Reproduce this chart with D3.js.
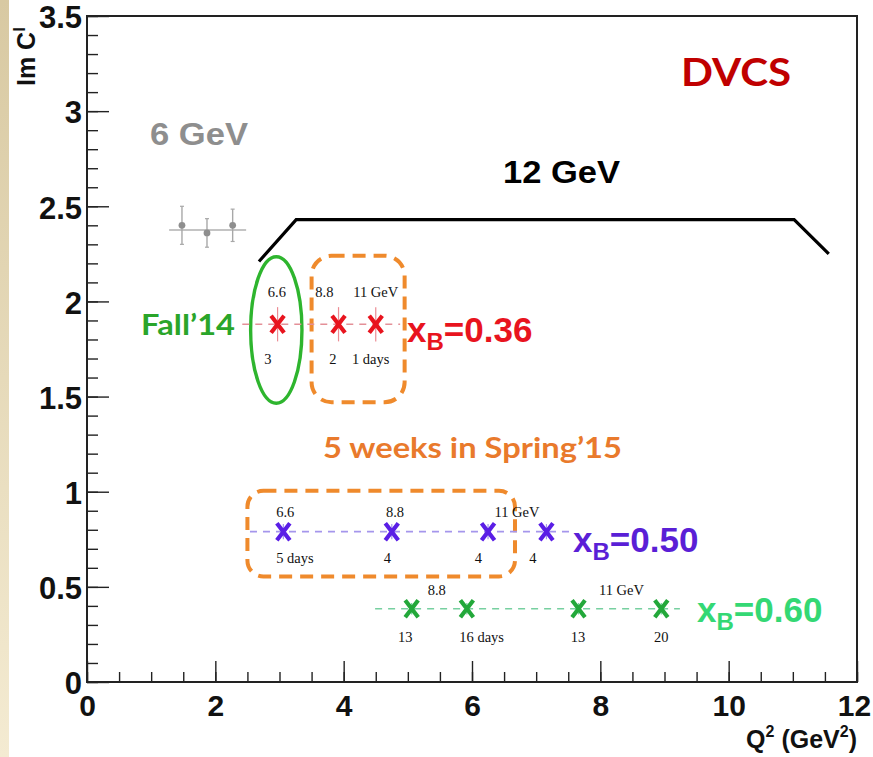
<!DOCTYPE html>
<html>
<head>
<meta charset="utf-8">
<script src="https://cdn.jsdelivr.net/npm/d3@7"></script>
<style>
  html, body { margin: 0; padding: 0; background: #ffffff; }
  svg { display: block; }
</style>
</head>
<body>
<svg id="chart" width="873" height="757"></svg>
<script>
// ---- data ----
// 6 GeV published points
const q2_6GeV   = [1.48, 1.87, 2.27];
const imc_6GeV  = [2.40, 2.36, 2.40];
const err_6GeV  = [0.10, 0.075, 0.085];
const band_6GeV = { from: 1.28, to: 2.48, value: 2.375 };

// 12 GeV kinematic reach
const q2_12GeV  = [2.68, 3.26, 11.02, 11.56];
const imc_12GeV = [2.21, 2.43, 2.43, 2.25];

// projected points, xB = 0.36
const q2_036  = [2.97, 3.92, 4.50];
const imc_036 = [1.88, 1.88, 1.88];
const err_036 = [0.09, 0.09, 0.09];
const line_036 = [2.42, 4.88];
const beam_036 = [{ q: 2.96, t: "6.6" }, { q: 3.70, t: "8.8" }, { q: 4.50, t: "11 GeV" }];
const days_036 = [{ q: 2.82, t: "3" }, { q: 3.83, t: "2" }, { q: 4.42, t: "1 days" }];

// projected points, xB = 0.50
const q2_050  = [3.06, 4.75, 6.25, 7.16];
const imc_050 = [0.79, 0.79, 0.79, 0.79];
const err_050 = [0.04, 0.04, 0.04, 0.04];
const line_050 = [2.54, 7.55];
const beam_050 = [{ q: 3.09, t: "6.6" }, { q: 4.80, t: "8.8" }, { q: 6.70, t: "11 GeV" }];
const days_050 = [{ q: 3.24, t: "5 days" }, { q: 4.68, t: "4" }, { q: 6.10, t: "4" }, { q: 6.95, t: "4" }];

// projected points, xB = 0.60
const q2_060  = [5.06, 5.92, 7.66, 8.95];
const imc_060 = [0.385, 0.385, 0.385, 0.385];
const err_060 = [0.03, 0.03, 0.03, 0.03];
const line_060 = [4.49, 9.24];
const beam_060 = [{ q: 5.45, t: "8.8" }, { q: 8.33, t: "11 GeV" }];
const days_060 = [{ q: 4.96, t: "13" }, { q: 6.15, t: "16 days" }, { q: 7.65, t: "13" }, { q: 8.95, t: "20" }];

// run-period outlines (data coordinates)
const fallEllipse = { q: 2.95, v: 1.85, rq: 0.40, rv: 0.385 };
const springBox1  = { q0: 3.50, q1: 4.95, v0: 1.47, v1: 2.24 };
const springBox2  = { q0: 2.50, q1: 6.67, v0: 0.555, v1: 1.005 };

const xTicksMajor = [0, 2, 4, 6, 8, 10, 12];
const yTicksMajor = [0, 0.5, 1, 1.5, 2, 2.5, 3, 3.5];
const yTickLabels = ["0", "0.5", "1", "1.5", "2", "2.5", "3", "3.5"];

// ---- layout ----
const svg = d3.select("#chart");
const W = 873, H = 757;
const pL = 87, pR = 857, pT = 16, pB = 682;

const x = d3.scaleLinear().domain([0, 12]).range([pL, pR]);
const y = d3.scaleLinear().domain([0, 3.5]).range([pB, pT]);

// beige page edge
const grad = svg.append("defs").append("linearGradient")
  .attr("id", "edge").attr("x1", 0).attr("y1", 0).attr("x2", 0).attr("y2", 1);
grad.append("stop").attr("offset", "0%").attr("stop-color", "#d8c9a2");
grad.append("stop").attr("offset", "100%").attr("stop-color", "#f4ebd2");
svg.append("rect").attr("x", 0).attr("y", 0).attr("width", W).attr("height", H).attr("fill", "#ffffff");
svg.append("rect").attr("x", 0).attr("y", 0).attr("width", 9).attr("height", H).attr("fill", "url(#edge)");

const axisFont = "'Liberation Sans', Arial, sans-serif";
const calFont = "Lato, 'Open Sans', sans-serif";
const serif = "'Liberation Serif', 'Times New Roman', serif";

// ---- axes (ticks point into the frame) ----
const xMinor = d3.range(0, 12.001, 0.5);
const yMinor = d3.range(0, 3.5001, 0.1);

const gxMinor = svg.append("g").attr("transform", `translate(0,${pB})`)
  .call(d3.axisBottom(x).tickValues(xMinor).tickSize(-10).tickFormat(""));
const gxMajor = svg.append("g").attr("transform", `translate(0,${pB})`)
  .call(d3.axisBottom(x).tickValues(xTicksMajor).tickSize(-21).tickFormat(d3.format("d")));
const gyMinor = svg.append("g").attr("transform", `translate(${pL},0)`)
  .call(d3.axisLeft(y).tickValues(yMinor).tickSize(-11).tickFormat(""));
const gyMajor = svg.append("g").attr("transform", `translate(${pL},0)`)
  .call(d3.axisLeft(y).tickValues(yTicksMajor).tickSize(-22)
    .tickFormat((d, i) => yTickLabels[i]));

[gxMinor, gxMajor, gyMinor, gyMajor].forEach(g => {
  g.select(".domain").remove();
  g.selectAll(".tick line").attr("stroke", "#222").attr("stroke-width", 1.4);
});
gxMajor.selectAll(".tick text")
  .attr("font-family", axisFont).attr("font-weight", "bold").attr("font-size", 30)
  .attr("fill", "#111").attr("dy", "0").attr("y", 34)
  .attr("x", d => d === 12 ? -3 : 0);
gyMajor.selectAll(".tick text")
  .attr("font-family", axisFont).attr("font-weight", "bold").attr("font-size", 31)
  .attr("fill", "#111").attr("x", -5).attr("dy", "0.38em");

// frame
svg.append("rect").attr("x", pL).attr("y", pT)
  .attr("width", pR - pL).attr("height", pB - pT)
  .attr("fill", "none").attr("stroke", "#222").attr("stroke-width", 2);

// axis titles
const xt = svg.append("text").attr("x", pR).attr("y", 748)
  .attr("text-anchor", "end").attr("font-family", axisFont).attr("font-weight", "bold")
  .attr("font-size", 25).attr("fill", "#111");
xt.append("tspan").text("Q");
xt.append("tspan").attr("font-size", 16).attr("dy", -11).text("2");
xt.append("tspan").attr("dy", 11).text(" (GeV");
xt.append("tspan").attr("font-size", 16).attr("dy", -11).text("2");
xt.append("tspan").attr("dy", 11).text(")");

const yt = svg.append("text").attr("transform", "translate(35,86) rotate(-90)")
  .attr("text-anchor", "start").attr("font-family", axisFont).attr("font-weight", "bold")
  .attr("font-size", 25).attr("fill", "#111");
yt.append("tspan").text("Im C");
yt.append("tspan").attr("font-size", 17).attr("dy", -10).text("I");

// ---- 12 GeV reach ----
const line = d3.line().x(d => x(d[0])).y(d => y(d[1]));
svg.append("path").datum(q2_12GeV.map((q, i) => [q, imc_12GeV[i]]))
  .attr("d", line).attr("fill", "none").attr("stroke", "#000").attr("stroke-width", 3.2)
  .attr("stroke-linejoin", "miter");

// ---- 6 GeV points ----
const gray = "#8e8e8e";
svg.append("line").attr("x1", x(band_6GeV.from)).attr("x2", x(band_6GeV.to))
  .attr("y1", y(band_6GeV.value)).attr("y2", y(band_6GeV.value))
  .attr("stroke", "#b0b0b0").attr("stroke-width", 1.6);
const g6 = svg.append("g");
q2_6GeV.forEach((q, i) => {
  g6.append("line").attr("x1", x(q)).attr("x2", x(q))
    .attr("y1", y(imc_6GeV[i] - err_6GeV[i])).attr("y2", y(imc_6GeV[i] + err_6GeV[i]))
    .attr("stroke", "#a8a8a8").attr("stroke-width", 1.4);
  [-1, 1].forEach(s => g6.append("line")
    .attr("x1", x(q) - 2).attr("x2", x(q) + 2)
    .attr("y1", y(imc_6GeV[i] + s * err_6GeV[i])).attr("y2", y(imc_6GeV[i] + s * err_6GeV[i]))
    .attr("stroke", "#a8a8a8").attr("stroke-width", 1.2));
  g6.append("circle").attr("cx", x(q)).attr("cy", y(imc_6GeV[i])).attr("r", 3.4).attr("fill", gray);
});

// ---- run-period outlines ----
svg.append("ellipse")
  .attr("cx", x(fallEllipse.q)).attr("cy", y(fallEllipse.v))
  .attr("rx", x(fallEllipse.rq) - x(0)).attr("ry", y(0) - y(fallEllipse.rv))
  .attr("fill", "none").attr("stroke", "#2eb52e").attr("stroke-width", 3.4);

[springBox1, springBox2].forEach((b, i) => {
  svg.append("rect")
    .attr("x", x(b.q0)).attr("y", y(b.v1))
    .attr("width", x(b.q1) - x(b.q0)).attr("height", y(b.v0) - y(b.v1))
    .attr("rx", i === 0 ? 20 : 16)
    .attr("fill", "none").attr("stroke", "#ef8a2c").attr("stroke-width", 4)
    .attr("stroke-dasharray", "13,8");
});

// ---- projected series ----
function series(q2, imc, err, span, color, lineColor, errColor, beam, days, beamDy, daysDy) {
  const g = svg.append("g");
  g.append("line").attr("x1", x(span[0])).attr("x2", x(span[1]))
    .attr("y1", y(imc[0])).attr("y2", y(imc[0]))
    .attr("stroke", lineColor).attr("stroke-width", 1.6).attr("stroke-dasharray", "7,6");
  q2.forEach((q, i) => {
    const cx = x(q), cy = y(imc[i]);
    g.append("line").attr("x1", cx).attr("x2", cx)
      .attr("y1", y(imc[i] - err[i])).attr("y2", y(imc[i] + err[i]))
      .attr("stroke", errColor).attr("stroke-width", 1.2);
    g.append("path")
      .attr("d", `M${cx - 6.5},${cy - 8.5}L${cx + 6.5},${cy + 8.5}M${cx + 6.5},${cy - 8.5}L${cx - 6.5},${cy + 8.5}`)
      .attr("stroke", color).attr("stroke-width", 4.2).attr("fill", "none");
  });
  beam.forEach(b => g.append("text").attr("x", x(b.q)).attr("y", y(imc[0]) + beamDy)
    .attr("text-anchor", "middle").attr("font-family", serif).attr("font-size", 14.5)
    .attr("fill", "#111").text(b.t));
  days.forEach(b => g.append("text").attr("x", x(b.q)).attr("y", y(imc[0]) + daysDy)
    .attr("text-anchor", "middle").attr("font-family", serif).attr("font-size", 14.5)
    .attr("fill", "#111").text(b.t));
}

series(q2_036, imc_036, err_036, line_036, "#e8141e", "#e49098", "#ec8c94", beam_036, days_036, -27, 40);
series(q2_050, imc_050, err_050, line_050, "#5a1ee6", "#a596ec", "#a596ec", beam_050, days_050, -15, 31);
series(q2_060, imc_060, err_060, line_060, "#23a83a", "#77d0a0", "#77d0a0", beam_060, days_060, -14, 33);

// ---- xB labels ----
function xbLabel(px, py, value, color) {
  const t = svg.append("text").attr("x", px).attr("y", py)
    .attr("font-family", axisFont).attr("font-weight", "bold").attr("font-size", 35).attr("fill", color);
  t.append("tspan").text("x");
  t.append("tspan").attr("font-size", 24).attr("dy", 8).text("B");
  t.append("tspan").attr("dy", -8).text("=" + value);
}
xbLabel(407, 342, "0.36", "#e8141e");
xbLabel(573, 552, "0.50", "#5a1fd6");
xbLabel(697, 622, "0.60", "#34d874");

// ---- annotations ----
svg.append("text").attr("x", 681).attr("y", 86).attr("font-family", calFont)
  .attr("font-weight", "bold").attr("font-size", 38).attr("fill", "#c00000")
  .attr("textLength", 110).attr("lengthAdjust", "spacingAndGlyphs").text("DVCS");
svg.append("text").attr("x", 150).attr("y", 145).attr("font-family", axisFont)
  .attr("font-weight", "bold").attr("font-size", 31).attr("fill", gray)
  .attr("textLength", 98).attr("lengthAdjust", "spacingAndGlyphs").text("6 GeV");
svg.append("text").attr("x", 503).attr("y", 183).attr("font-family", axisFont)
  .attr("font-weight", "bold").attr("font-size", 31).attr("fill", "#000")
  .attr("textLength", 117).attr("lengthAdjust", "spacingAndGlyphs").text("12 GeV");
svg.append("text").attr("x", 141).attr("y", 335).attr("font-family", calFont)
  .attr("font-weight", "bold").attr("font-size", 28).attr("fill", "#2aa52a")
  .attr("textLength", 94).attr("lengthAdjust", "spacingAndGlyphs").text("Fall’14");
svg.append("text").attr("x", 323).attr("y", 458).attr("font-family", calFont)
  .attr("font-weight", "bold").attr("font-size", 28).attr("fill", "#e97a2c")
  .attr("textLength", 299).attr("lengthAdjust", "spacingAndGlyphs").text("5 weeks in Spring’15");
</script>
</body>
</html>
